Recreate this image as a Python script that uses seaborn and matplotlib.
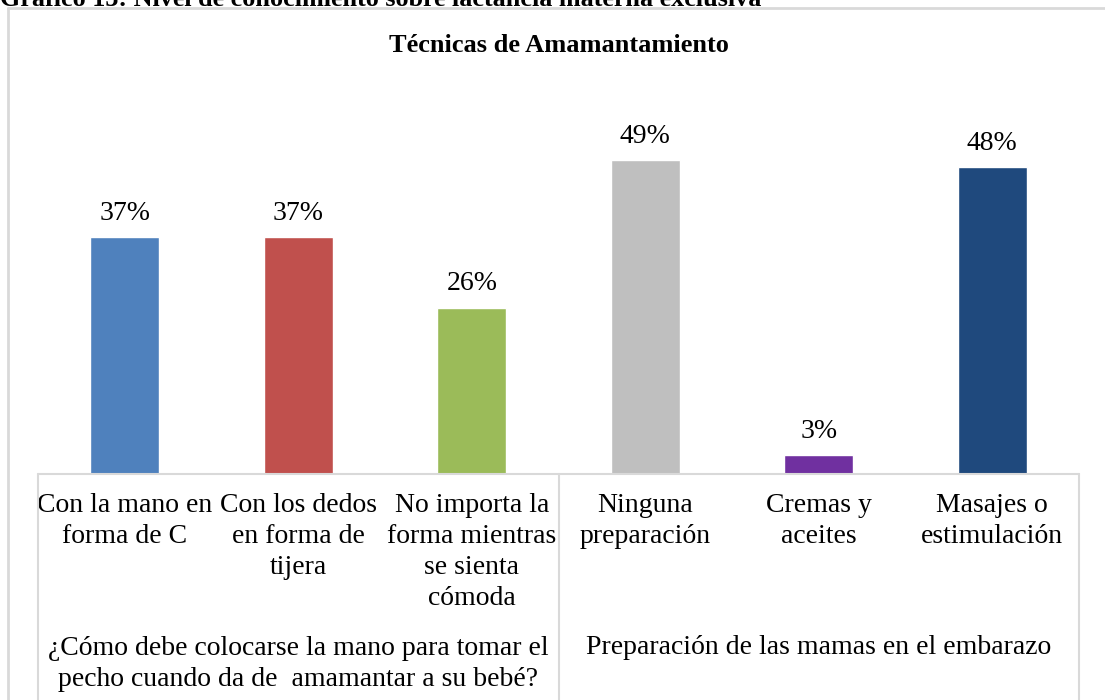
import matplotlib
matplotlib.use("Agg")
import matplotlib.pyplot as plt
from matplotlib.lines import Line2D
import seaborn as sns
import pandas as pd

caption = "Gráfico 13: Nivel de conocimiento sobre lactancia materna exclusiva"
title = "Técnicas de Amamantamiento"
categories = [
    "Con la mano en\nforma de C",
    "Con los dedos\nen forma de\ntijera",
    "No importa la\nforma mientras\nse sienta\ncómoda",
    "Ninguna\npreparación",
    "Cremas y\naceites",
    "Masajes o\nestimulación",
]
values = [37, 37, 26, 49, 3, 48]
value_labels = ["37%", "37%", "26%", "49%", "3%", "48%"]
groups = [
    "¿Cómo debe colocarse la mano para tomar el\npecho cuando da de  amamantar a su bebé?",
    "Preparación de las mamas en el embarazo",
]
colors = ["#4F81BD", "#C0504D", "#9BBB59", "#BFBFBF", "#7030A0", "#1F497D"]

sns.set_theme(style="white")
plt.rcParams["font.family"] = ["Liberation Serif", "DejaVu Serif"]
plt.rcParams["text.color"] = "#000000"

FS = 20
W, H = 1105, 700
fig = plt.figure(figsize=(W / 100, H / 100), dpi=100)
ax_l, ax_r, ax_b, ax_t = 38, 1079, 474, 90
ax = fig.add_axes([ax_l / W, 1 - ax_b / H, (ax_r - ax_l) / W, (ax_b - ax_t) / H])

df = pd.DataFrame({"cat": categories, "val": values})
sns.barplot(data=df, x="cat", y="val", hue="cat", palette=colors, width=0.40,
            legend=False, ax=ax, saturation=1)
ax.set_ylim(0, 60)
ax.set_xlim(-0.5, len(categories) - 0.5)
for s in ax.spines.values():
    s.set_visible(False)
ax.set_yticks([])
ax.set_xlabel("")
ax.set_ylabel("")
ax.tick_params(axis="x", length=0, pad=14)
ax.set_xticks(range(len(categories)))
ax.set_xticklabels(categories, fontsize=FS, linespacing=1.3, color="#000000")

for i, (v, lab) in enumerate(zip(values, value_labels)):
    ax.annotate(lab, (i, v), xytext=(0, 8), textcoords="offset points",
                ha="center", va="bottom", fontsize=FS, color="#000000")

# category axis frame
gc = "#D9D9D9"
bottom_ax = -(H - ax_b) / (ax_b - ax_t) - 0.02
ax.plot([0, 1], [0, 0], transform=ax.transAxes, color=gc, lw=1.5, clip_on=False)
for xv in [0, 0.5, 1]:
    ax.plot([xv, xv], [0, bottom_ax], transform=ax.transAxes, color=gc, lw=1.5, clip_on=False)

# group labels
fig.text((ax_l + (ax_r - ax_l) * 0.25) / W, 1 - 664 / H, groups[0], ha="center", va="center",
         fontsize=FS, linespacing=1.3, color="#000000")
fig.text((ax_l + (ax_r - ax_l) * 0.75) / W, 1 - 648 / H, groups[1], ha="center", va="center",
         fontsize=FS, color="#000000")

# chart title
fig.text(559 / W, 1 - 45 / H, title, ha="center", va="center", fontsize=19,
         fontweight="bold", color="#000000")

# outer chart frame (left/top)
fig.add_artist(Line2D([8 / W, 8 / W], [0, 1 - 8 / H], transform=fig.transFigure, color=gc, lw=2))
fig.add_artist(Line2D([8 / W, 1], [1 - 8 / H, 1 - 8 / H], transform=fig.transFigure, color=gc, lw=2))

# clipped caption at top (cut off in the reference as well)
fig.text(0, 1 - 6 / H, caption, ha="left", va="baseline", fontsize=18.8, fontweight="bold",
         color="#000000")

fig.savefig("out.png", dpi=100, facecolor="white")
